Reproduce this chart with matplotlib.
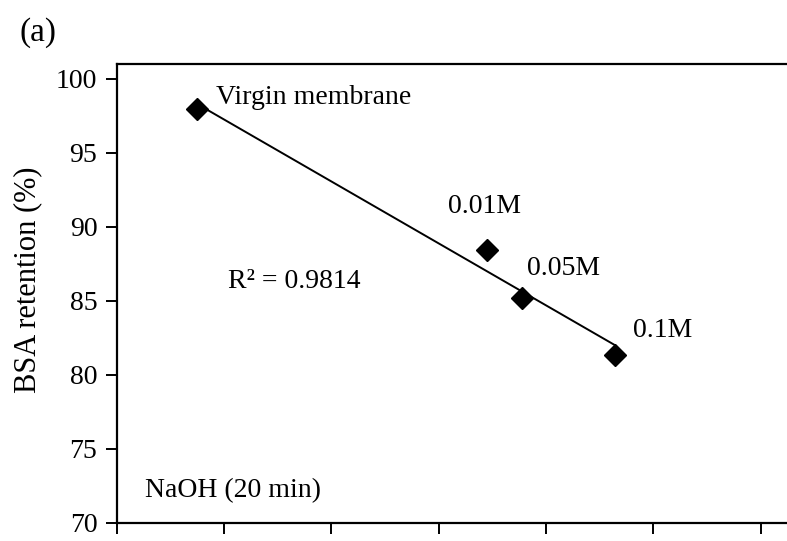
import numpy as np
import matplotlib
matplotlib.use("Agg")
import matplotlib.pyplot as plt

plt.rcParams['font.family'] = ['Liberation Serif', 'DejaVu Serif']

# NaOH treatment series (20 min)
labels = ["Virgin membrane", "0.01M", "0.05M", "0.1M"]
x_vals = [0.75, 3.45, 3.78, 4.64]
retention = [97.95, 88.45, 85.2, 81.35]
r2_text = "R\u00b2 = 0.9814"

# where each point label sits (data coords, baseline)
label_pos = [(0.925, 98.31), (3.09, 90.95), (3.82, 86.76), (4.81, 82.57)]

fig = plt.figure(figsize=(7.87, 5.41), dpi=100)
ax = fig.add_axes([0.1483, 0.0333, 0.8617, 0.8484])

# linear trend line over the data range
coef = np.polyfit(x_vals, retention, 1)
xs = np.array([min(x_vals), max(x_vals)])
ax.plot(xs, np.polyval(coef, xs), color="black", lw=1.4, zorder=2)
ax.plot(x_vals, retention, linestyle="none", marker="D", ms=11,
        color="black", zorder=3)

ax.set_xlim(0, 6.32)
ax.set_ylim(70, 101.0)
ax.set_xticks(np.arange(0, 7, 1))
ax.set_xticklabels([])
ax.set_yticks(np.arange(70, 101, 5))
ax.tick_params(axis="y", direction="out", length=8, width=1.4,
               labelsize=20, pad=6)
ax.tick_params(axis="x", direction="out", length=8, width=1.4)
for side in ["left", "bottom", "top"]:
    ax.spines[side].set_linewidth(1.6)
ax.spines["right"].set_visible(False)

ax.set_ylabel("BSA retention (%)", fontsize=22)
ax.yaxis.set_label_coords(-0.11, 0.53)

for lab, (tx, ty) in zip(labels, label_pos):
    ax.text(tx, ty, lab, fontsize=20, ha="left", va="baseline")

ax.text(1.04, 85.88, r2_text, fontsize=20, ha="left", va="baseline")
ax.text(0.264, 71.76, "NaOH (20 min)", fontsize=20, ha="left", va="baseline")
fig.text(0.025, 0.94, "(a)", fontsize=24, ha="left", va="center")

fig.savefig("out.png", dpi=100)
